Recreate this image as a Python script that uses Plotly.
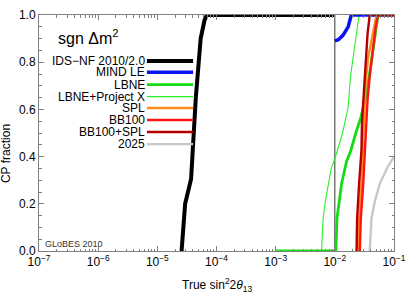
import plotly.graph_objects as go

# ---- data ----
ids_x = [2.57e-5, 2.95e-5, 3.72e-5, 3.89e-5, 3.98e-5, 4.47e-5, 5.01e-5, 5.4e-5, 6.3e-5, 6.92e-5, 1e-2]
ids_y = [0.0, 0.20, 0.305, 0.40, 0.455, 0.65, 0.80, 0.90, 0.98, 1.0, 1.0]

mind_x = [0.01, 0.0115, 0.0138, 0.0168, 0.019, 0.1]
mind_y = [0.89, 0.895, 0.915, 0.95, 1.0, 1.0]

lbne_x = [0.001, 0.0104, 0.0109, 0.013, 0.0158, 0.0186, 0.0226, 0.0275, 0.0347, 0.040, 0.0474, 0.0537, 0.1]
lbne_y = [0.0, 0.0, 0.14, 0.285, 0.38, 0.425, 0.50, 0.565, 0.67, 0.78, 0.90, 1.0, 1.0]

lbnepx_x = [0.001, 0.00596, 0.00615, 0.00635, 0.0069, 0.00776, 0.0087, 0.010, 0.0111, 0.0135, 0.0168, 0.0184, 0.0213, 0.0257, 0.1]
lbnepx_y = [0.0, 0.0, 0.07, 0.14, 0.21, 0.285, 0.35, 0.39, 0.43, 0.50, 0.61, 0.74, 0.855, 1.0, 1.0]

spl_x = [0.02427, 0.0257, 0.02818, 0.02985, 0.0309, 0.03311, 0.03656, 0.04436, 0.0507, 0.1]
spl_y = [0.0, 0.14, 0.285, 0.425, 0.565, 0.71, 0.82, 0.92, 1.0, 1.0]

bb100_x = [0.02642, 0.02754, 0.0302, 0.03236, 0.03388, 0.03573, 0.0389, 0.04436, 0.04898, 0.0537, 0.1]
bb100_y = [0.0, 0.14, 0.285, 0.425, 0.55, 0.64, 0.74, 0.855, 0.95, 1.0, 1.0]

bbspl_x = [0.02328, 0.02382, 0.0257, 0.02818, 0.02884, 0.0302, 0.03236, 0.0335, 0.03573, 0.0389, 0.1]
bbspl_y = [0.0, 0.14, 0.285, 0.425, 0.55, 0.64, 0.78, 0.85, 0.92, 1.0, 1.0]

y2025_x = [0.0389, 0.0398, 0.0417, 0.0474, 0.0575, 0.0776, 0.1]
y2025_y = [0.0, 0.07, 0.14, 0.21, 0.285, 0.355, 0.40]

ref_x = [0.01, 0.01]
ref_y = [0.0, 1.0]

labels = ["IDS\u2212NF 2010/2.0", "MIND LE", "LBNE", "LBNE+Project X", "SPL", "BB100", "BB100+SPL", "2025"]
colors = ["#000000", "#0a14f0", "#14dc14", "#28f028", "#ff8c1e", "#ff1414", "#b40000", "#c8c8c8"]
widths = [4, 3.5, 2.8, 1.1, 2.4, 2.4, 2.4, 2.4]

xticks = [1e-7, 1e-6, 1e-5, 1e-4, 1e-3, 1e-2, 1e-1]
xticktext = ["10<sup>\u22127</sup>", "10<sup>\u22126</sup>", "10<sup>\u22125</sup>", "10<sup>\u22124</sup>",
             "10<sup>\u22123</sup>", "10<sup>\u22122</sup>", "10<sup>\u22121</sup>"]

FONT = "Liberation Sans, Arial, Helvetica, sans-serif"

series = [
    (ids_x, ids_y), (mind_x, mind_y), (lbne_x, lbne_y), (lbnepx_x, lbnepx_y),
    (spl_x, spl_y), (bb100_x, bb100_y), (bbspl_x, bbspl_y), (y2025_x, y2025_y),
]

fig = go.Figure()
fig.add_trace(go.Scatter(x=ref_x, y=ref_y, mode="lines",
                         line=dict(color="#333333", width=1), showlegend=False, hoverinfo="skip"))
draw_order = [2, 3, 0, 1, 4, 5, 6, 7]
for i in draw_order:
    sx, sy = series[i]
    fig.add_trace(go.Scatter(x=sx, y=sy, mode="lines", name=labels[i],
                             line=dict(color=colors[i], width=widths[i]), showlegend=False))

# ---- custom legend ----
legend_rows_y = [0.805, 0.757, 0.705, 0.654, 0.606, 0.555, 0.504, 0.453]
for i, lab in enumerate(labels):
    fig.add_shape(type="line", xref="paper", yref="paper",
                  x0=0.304, x1=0.434, y0=legend_rows_y[i], y1=legend_rows_y[i],
                  line=dict(color=colors[i], width=widths[i]))
    fig.add_annotation(xref="paper", yref="paper", x=0.301, y=legend_rows_y[i],
                       text=lab, showarrow=False, xanchor="right", yanchor="middle", borderpad=0,
                       font=dict(family=FONT, size=12, color="black"))

fig.add_annotation(xref="paper", yref="paper", x=0.048, y=0.907, text="sgn \u0394m<sup>2</sup>",
                   showarrow=False, xanchor="left", yanchor="middle",
                   font=dict(family=FONT, size=16, color="black"))
fig.add_annotation(xref="paper", yref="paper", x=0.012, y=0.03, text="GLoBES 2010",
                   showarrow=False, xanchor="left", yanchor="middle",
                   font=dict(family=FONT, size=9, color="#333333"))
fig.add_annotation(xref="paper", yref="paper", x=0.501, y=-0.144,
                   text="True sin<sup>2</sup>2<i>\u03b8</i><sub>13</sub>",
                   showarrow=False, xanchor="center", yanchor="middle",
                   font=dict(family=FONT, size=12, color="black"))
fig.add_annotation(xref="paper", yref="paper", x=-0.093, y=0.415, text="CP fraction",
                   showarrow=False, textangle=-90, xanchor="center", yanchor="middle",
                   font=dict(family=FONT, size=12, color="black"))

minor_x = [k * 10.0 ** e for e in range(-7, -1) for k in range(2, 10)]

fig.update_layout(
    width=407, height=293,
    margin=dict(l=39, r=13, t=15, b=42, autoexpand=False),
    paper_bgcolor="white", plot_bgcolor="white",
    font=dict(family=FONT, size=12, color="black"),
    hovermode=False,
    xaxis=dict(type="log", range=[-7, -1], tickmode="array", tickvals=xticks, ticktext=xticktext,
               automargin=False,
               ticks="inside", ticklen=5, tickcolor="#808080", showline=True, linecolor="#808080",
               linewidth=1, mirror="ticks", showgrid=False, zeroline=False,
               tickfont=dict(size=12, color="black"),
               minor=dict(ticks="inside", ticklen=2.5, tickcolor="#808080", tickmode="array",
                          tickvals=minor_x, showgrid=False)),
    yaxis=dict(range=[0, 1], tickmode="linear", tick0=0, dtick=0.2, tickformat=".1f",
               automargin=False,
               ticks="inside", ticklen=5, tickcolor="#808080", showline=True, linecolor="#808080",
               linewidth=1, mirror="ticks", showgrid=False, zeroline=False,
               tickfont=dict(size=12, color="black"),
               minor=dict(ticks="inside", ticklen=2.5, tickcolor="#808080", dtick=0.05, showgrid=False)),
)

# remove the browser's default 8px body margin so the figure sits at the page origin
fig.write_html("out.html", config={"displayModeBar": False, "staticPlot": True},
               post_script="document.body.style.margin='0';")
